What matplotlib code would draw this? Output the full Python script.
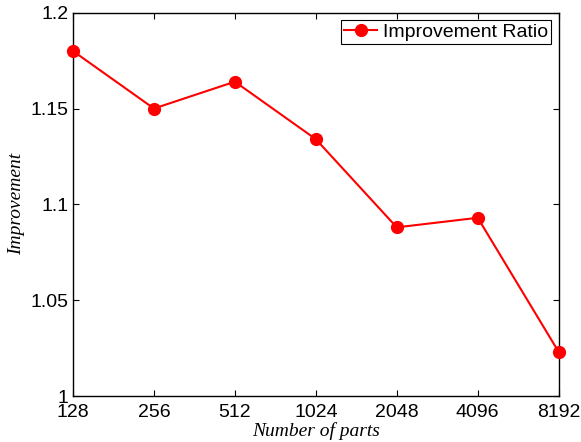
import matplotlib
matplotlib.use("Agg")
import matplotlib.pyplot as plt

categories = ["128", "256", "512", "1024", "2048", "4096", "8192"]
ratio = [1.180, 1.150, 1.164, 1.134, 1.088, 1.093, 1.023]
yticks = [1.0, 1.05, 1.1, 1.15, 1.2]
ytick_labels = ["1", "1.05", "1.1", "1.15", "1.2"]

plt.rcParams['font.family'] = ['Liberation Sans', 'DejaVu Sans']

fig = plt.figure(figsize=(5.81, 4.42), dpi=100)
ax = fig.add_axes([0.1256, 0.104, 0.836, 0.8673])
x = list(range(len(categories)))
ax.plot(x, ratio, color='#ff0000', lw=1.5, marker='o', markersize=8.5,
        label='Improvement Ratio', clip_on=False, zorder=3)
ax.set_xlim(0, len(categories) - 1)
ax.set_ylim(1.0, 1.2)
ax.set_xticks(x)
ax.set_xticklabels(categories)
ax.set_yticks(yticks)
ax.set_yticklabels(ytick_labels)
ax.tick_params(direction='in', top=True, right=True, labelsize=14, length=4,
               width=0.8)
ax.tick_params(axis='x', pad=5.5)
ax.tick_params(axis='y', pad=3)
for s in ax.spines.values():
    s.set_linewidth(1.0)
ax.set_xlabel('Number of parts', family='Liberation Serif', style='italic',
              fontsize=14, labelpad=1)
ax.set_ylabel('Improvement', family='Liberation Serif', style='italic',
              fontsize=14, labelpad=4)
leg = ax.legend(loc='upper right', fontsize=14, fancybox=False, framealpha=1,
                edgecolor='black', borderpad=0.15, handlelength=1.7,
                handletextpad=0.3, borderaxespad=0.4)
leg.get_frame().set_linewidth(0.8)
fig.savefig('out.png', dpi=100)
